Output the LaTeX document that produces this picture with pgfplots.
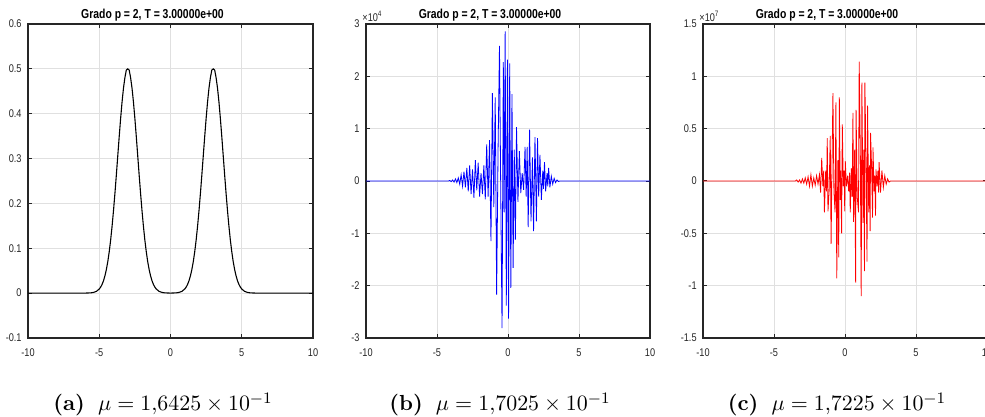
\documentclass[border=0pt]{standalone}
\usepackage{fontspec}
\usepackage{pgfplots}
\usepackage{pgfplotstable}
\pgfplotsset{compat=1.18}
\newfontfamily\tickfont{Liberation Sans}[FakeStretch=0.82]
\newfontfamily\titlefont{Liberation Sans}[FakeStretch=0.80]
\definecolor{axc}{rgb}{0.15,0.15,0.15}
\definecolor{gridc}{rgb}{0.88,0.88,0.88}

\pgfplotstableread{
x y
-10 0
-6.0 0.0001
-5.6 0.0006
-5.4 0.0016
-5.2 0.0040
-5.0 0.0092
-4.9 0.0135
-4.8 0.0196
-4.7 0.0278
-4.6 0.0387
-4.5 0.0527
-4.4 0.0704
-4.3 0.0922
-4.2 0.1185
-4.1 0.1491
-4.0 0.1839
-3.9 0.2224
-3.8 0.2636
-3.7 0.3063
-3.6 0.3488
-3.5 0.3894
-3.4 0.4261
-3.3 0.4570
-3.2 0.4804
-3.1 0.4975
-3.0 0.5000
-2.9 0.4975
-2.8 0.4804
-2.7 0.4570
-2.6 0.4261
-2.5 0.3894
-2.4 0.3488
-2.3 0.3063
-2.2 0.2636
-2.1 0.2224
-2.0 0.1839
-1.9 0.1491
-1.8 0.1185
-1.7 0.0922
-1.6 0.0704
-1.5 0.0527
-1.4 0.0387
-1.3 0.0278
-1.2 0.0196
-1.1 0.0135
-1.0 0.0092
-0.8 0.0040
-0.6 0.0016
-0.4 0.0006
0.0 0.0001
0.4 0.0006
0.6 0.0016
0.8 0.0040
1.0 0.0092
1.1 0.0135
1.2 0.0196
1.3 0.0278
1.4 0.0387
1.5 0.0527
1.6 0.0704
1.7 0.0922
1.8 0.1185
1.9 0.1491
2.0 0.1839
2.1 0.2224
2.2 0.2636
2.3 0.3063
2.4 0.3488
2.5 0.3894
2.6 0.4261
2.7 0.4570
2.8 0.4804
2.9 0.4975
3.0 0.5000
3.1 0.4975
3.2 0.4804
3.3 0.4570
3.4 0.4261
3.5 0.3894
3.6 0.3488
3.7 0.3063
3.8 0.2636
3.9 0.2224
4.0 0.1839
4.1 0.1491
4.2 0.1185
4.3 0.0922
4.4 0.0704
4.5 0.0527
4.6 0.0387
4.7 0.0278
4.8 0.0196
4.9 0.0135
5.0 0.0092
5.2 0.0040
5.4 0.0016
5.6 0.0006
6.0 0.0001
10 0
}\dataA

\pgfplotstableread{
x y
-10 0
-4.2 0
-4.1 0.01e4
-4.0 -0.01e4
-3.9 0.02e4
-3.8 -0.02e4
-3.7 0.04e4
-3.6 -0.03e4
-3.5 0.06e4
-3.4 -0.06e4
-3.3 0.12e4
-3.2 -0.10e4
-3.1 0.18e4
-3.0 -0.12e4
-2.9 0.25e4
-2.8 -0.20e4
-2.7 0.30e4
-2.6 -0.25e4
-2.5 0.22e4
-2.4 -0.32e4
-2.3 0.40e4
-2.2 -0.18e4
-2.1 0.35e4
-2.0 -0.30e4
-1.9 0.15e4
-1.8 -0.25e4
-1.7 0.30e4
-1.6 -0.35e4
-1.5 0.70e4
-1.4 -0.30e4
-1.3 0.78e4
-1.2 -1.15e4
-1.1 1.68e4
-1.0 -0.50e4
-0.9 1.60e4
-0.8 -2.17e4
-0.7 0.60e4
-0.6 2.58e4
-0.5 -0.55e4
-0.42 -2.81e4
-0.33 2.27e4
-0.27 -0.60e4
-0.2 2.86e4
-0.12 -2.38e4
-0.04 2.32e4
0.04 -2.63e4
0.12 2.25e4
0.2 -2.04e4
0.28 1.66e4
0.36 -1.66e4
0.44 0.60e4
0.52 -1.12e4
0.6 1.03e4
0.7 -0.40e4
0.8 0.57e4
0.9 -0.23e4
1.0 0.15e4
1.1 -0.17e4
1.2 0.65e4
1.28 -0.30e4
1.35 0.65e4
1.42 -0.88e4
1.52 0.98e4
1.62 -0.77e4
1.72 0.45e4
1.8 -0.96e4
1.9 0.84e4
2.0 -0.77e4
2.08 0.82e4
2.16 -0.30e4
2.25 0.50e4
2.35 -0.36e4
2.45 0.20e4
2.5 -0.15e4
2.57 0.36e4
2.65 -0.20e4
2.75 0.15e4
2.8 -0.10e4
2.86 0.25e4
2.95 -0.12e4
3.05 0.09e4
3.15 -0.06e4
3.25 0.05e4
3.35 -0.03e4
3.45 0.02e4
3.55 -0.01e4
3.65 0
10 0
}\dataB

\pgfplotstableread{
x y
-10 0
-3.5 0
-3.4 0.01e7
-3.3 -0.01e7
-3.2 0.01e7
-3.1 -0.02e7
-3.0 0.02e7
-2.9 -0.02e7
-2.8 0.03e7
-2.7 -0.03e7
-2.6 0.04e7
-2.5 -0.05e7
-2.4 0.06e7
-2.3 -0.05e7
-2.2 0.03e7
-2.1 -0.04e7
-2.0 0.05e7
-1.9 -0.03e7
-1.8 0.06e7
-1.72 -0.11e7
-1.64 0.22e7
-1.56 -0.05e7
-1.5 0.10e7
-1.45 -0.30e7
-1.36 0.10e7
-1.3 -0.10e7
-1.25 0.41e7
-1.2 -0.29e7
-1.12 -0.10e7
-1.04 0.43e7
-0.98 -0.60e7
-0.92 0.10e7
-0.85 0.84e7
-0.78 -0.10e7
-0.70 -0.30e7
-0.64 0.75e7
-0.58 -0.93e7
-0.50 0.20e7
-0.44 -0.73e7
-0.40 0.80e7
-0.33 -0.18e7
-0.30 0.10e7
-0.24 -0.50e7
-0.19 0.54e7
-0.12 -0.05e7
-0.06 0.10e7
-0.02 -0.29e7
0.02 0.19e7
0.1 -0.05e7
0.18 0.05e7
0.26 -0.10e7
0.32 0.08e7
0.37 -0.30e7
0.44 0.12e7
0.5 -0.15e7
0.56 0.65e7
0.6 -0.39e7
0.68 0.30e7
0.75 -0.97e7
0.78 0.68e7
0.86 -0.15e7
0.95 -0.30e7
1.0 1.14e7
1.08 0.25e7
1.14 -1.10e7
1.19 0.94e7
1.27 -0.40e7
1.32 0.30e7
1.37 -0.86e7
1.40 0.94e7
1.48 0.20e7
1.55 -0.77e7
1.59 0.72e7
1.67 -0.30e7
1.72 0.15e7
1.77 -0.48e7
1.80 0.46e7
1.88 0.10e7
1.94 -0.35e7
1.97 0.32e7
2.05 -0.10e7
2.10 0.05e7
2.15 -0.33e7
2.18 0.11e7
2.26 -0.05e7
2.32 0.10e7
2.37 -0.11e7
2.40 0.18e7
2.5 -0.11e7
2.6 0.10e7
2.7 -0.06e7
2.8 0.05e7
2.9 -0.03e7
3.0 0.02e7
3.1 -0.01e7
3.2 0
10 0
}\dataC

\pgfplotsset{
  panel/.style={
    scale only axis, width=142pt, height=157pt, anchor=south west,
    xmin=-10, xmax=10, xtick={-10,-5,0,5,10},
    grid=major, major grid style={color=gridc, line width=0.45pt},
    axis line style={color=axc, line width=0.55pt},
    tick style={color=axc, line width=0.5pt},
    tick align=inside, major tick length=2pt,
    ticklabel style={font=\tickfont\fontsize{5.6}{6}\selectfont, text=axc},
    /pgf/number format/assume math mode=true,
    yticklabel style={inner sep=0pt, xshift=-3pt},
    xticklabel style={inner sep=0pt, yshift=-5pt},
    every axis title shift=0pt,
    title style={at={(0.5,1)}, anchor=base, inner sep=0pt, yshift=2.6pt, xshift=-9pt,
      font=\titlefont\bfseries\fontsize{6.5}{7}\selectfont},
    title={Grado p = 2, T = 3.00000e+00},
    ytick scale label code/.code={{\tickfont\fontsize{5.6}{6}\selectfont\color{axc}×10\textsuperscript{##1}}},
    every y tick scale label/.style={at={(rel axis cs:0,1)}, anchor=south west, inner sep=0pt, xshift=1pt, yshift=0.8pt},
  }
}

\begin{document}
\begin{tikzpicture}
\useasboundingbox (0,0) rectangle (492.5pt,208.5pt);

\begin{axis}[panel, at={(14pt,39.5pt)}, width=142.5pt,
  ymin=-0.1, ymax=0.6, ytick={-0.1,0,0.1,0.2,0.3,0.4,0.5,0.6}]
\addplot[black, line width=0.55pt] table[x=x,y=y] {\dataA};
\end{axis}

\begin{axis}[panel, at={(183pt,39.5pt)},
  ymin=-3e4, ymax=3e4, ytick={-3e4,-2e4,-1e4,0,1e4,2e4,3e4},
  scaled y ticks=base 10:-4]
\addplot[blue, line width=0.4pt] table[x=x,y=y] {\dataB};
\end{axis}

\begin{axis}[panel, at={(351.5pt,39.5pt)},
  ymin=-1.5e7, ymax=1.5e7, ytick={-1.5e7,-1e7,-0.5e7,0,0.5e7,1e7,1.5e7},
  scaled y ticks=base 10:-7]
\addplot[red, line width=0.4pt] table[x=x,y=y] {\dataC};
\end{axis}

\node[anchor=base, font=\fontsize{10.9}{13}\selectfont] at (81.5pt,3pt) {\textbf{(a)}\hspace{0.6em}$\mu = 1{,}6425 \times 10^{-1}$};
\node[anchor=base, font=\fontsize{10.9}{13}\selectfont] at (250pt,3pt) {\textbf{(b)}\hspace{0.6em}$\mu = 1{,}7025 \times 10^{-1}$};
\node[anchor=base, font=\fontsize{10.9}{13}\selectfont] at (418.5pt,3pt) {\textbf{(c)}\hspace{0.6em}$\mu = 1{,}7225 \times 10^{-1}$};
\end{tikzpicture}
\end{document}
